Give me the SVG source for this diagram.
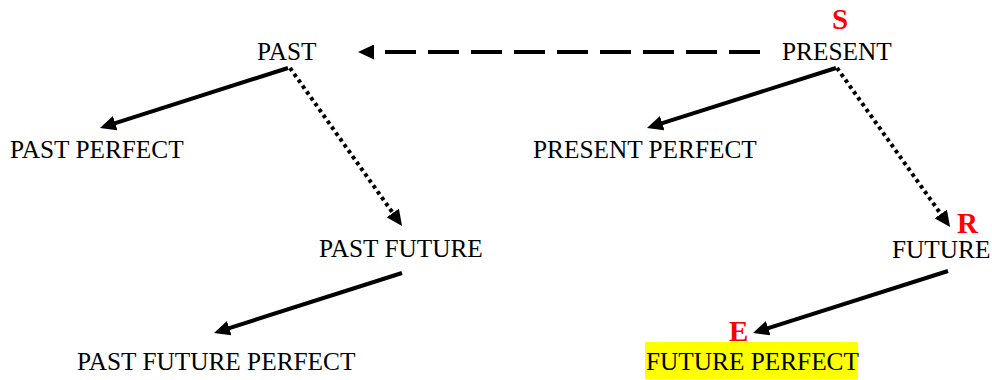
<svg xmlns="http://www.w3.org/2000/svg" width="992" height="380" viewBox="0 0 992 380">
<style>
  .lbl { font-family: "Liberation Serif", "Times New Roman", serif; font-size: 25.3px; fill: #000; }
  .mark { font-family: "Liberation Serif", "Times New Roman", serif; font-size: 29px; font-weight: bold; fill: #FF0000; }
  .solid { stroke: #000; stroke-width: 4; fill: none; marker-end: url(#ah); }
  .dashed { stroke: #000; stroke-width: 4; fill: none; stroke-dasharray: 31 12; marker-end: url(#ah); }
  .dotted { stroke: #000; stroke-width: 4; fill: none; stroke-dasharray: 3.6 3.6; marker-end: url(#ah); }
</style>
<defs>
  <marker id="ah" markerUnits="userSpaceOnUse" viewBox="0 0 16 15" markerWidth="16" markerHeight="15" refX="4" refY="7.5" orient="auto">
    <path d="M0,0 L16,7.5 L0,15 Z" fill="#000"/>
  </marker>
</defs>
<rect width="992" height="380" fill="#fff"/>

<g id="connectors">
  <line class="dashed" x1="760" y1="52" x2="370" y2="52"/>
  <line class="solid" x1="288" y1="68" x2="111.4" y2="124.35"/>
  <line class="solid" x1="836" y1="68" x2="658.4" y2="124.35"/>
  <line class="dotted" x1="290" y1="68" x2="395.1" y2="216.2"/>
  <line class="dotted" x1="837" y1="68" x2="943.1" y2="217.2"/>
  <line class="solid" x1="402" y1="273" x2="225.4" y2="329.35"/>
  <line class="solid" x1="948" y1="271" x2="764.4" y2="329.4"/>
</g>

<g id="past"><text class="lbl" x="257" y="60">PAST</text></g>
<g id="present">
  <text class="mark" x="832" y="29">S</text>
  <text class="lbl" x="782" y="60">PRESENT</text>
</g>
<g id="past-perfect"><text class="lbl" x="10" y="158">PAST PERFECT</text></g>
<g id="present-perfect"><text class="lbl" x="533" y="158">PRESENT PERFECT</text></g>
<g id="past-future"><text class="lbl" x="319" y="257">PAST FUTURE</text></g>
<g id="future">
  <text class="mark" x="957" y="233">R</text>
  <text class="lbl" x="892" y="258">FUTURE</text>
</g>
<g id="past-future-perfect"><text class="lbl" x="77" y="370">PAST FUTURE PERFECT</text></g>
<g id="future-perfect">
  <rect x="645" y="342" width="213" height="37" fill="#FFFF00"/>
  <text class="mark" x="729" y="341">E</text>
  <text class="lbl" x="646" y="370">FUTURE PERFECT</text>
</g>
</svg>
